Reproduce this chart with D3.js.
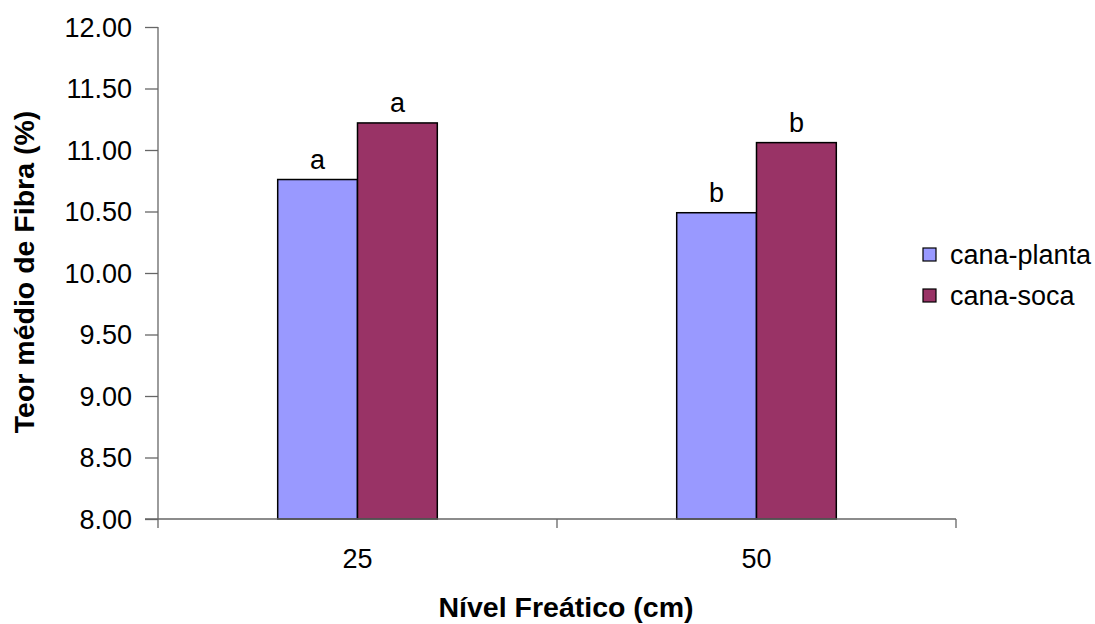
<!DOCTYPE html>
<html>
<head>
<meta charset="utf-8">
<script src="https://cdn.jsdelivr.net/npm/d3@7"></script>
<style>
  body { margin: 0; background: #fff; }
  text { font-family: "Liberation Sans", Arial, sans-serif; }
</style>
</head>
<body>
<svg id="chart" width="1095" height="624"></svg>
<script>
// data
var categories = ["25", "50"];
var seriesNames = ["cana-planta", "cana-soca"];
var plantaValues = [10.76, 10.49];
var socaValues = [11.22, 11.06];
var plantaLetters = ["a", "b"];
var socaLetters = ["a", "b"];
var yTicks = [8, 8.5, 9, 9.5, 10, 10.5, 11, 11.5, 12];
var colors = ["#9999FF", "#993366"];

var margin = {left: 158, top: 27, right: 1095 - 956, bottom: 624 - 519};
var width = 1095 - margin.left - margin.right;
var height = 624 - margin.top - margin.bottom;

var svg = d3.select("#chart");
var g = svg.append("g").attr("transform", `translate(${margin.left},${margin.top})`);

var xScale = d3.scaleBand().range([0, width]).domain(categories);
var yScale = d3.scaleLinear().range([height, 0]).domain([8, 12]);

// bar width : band = 80 : 399 (gap width 150%)
var barW = xScale.bandwidth() / 5;
var xInner = d3.scaleBand().domain(seriesNames).range([0, barW * 2]);

var rows = [];
categories.forEach((c, i) => {
  rows.push({cat: c, s: 0, v: plantaValues[i], lab: plantaLetters[i]});
  rows.push({cat: c, s: 1, v: socaValues[i], lab: socaLetters[i]});
});

var barX = d => xScale(d.cat) + xScale.bandwidth() / 2 - barW + xInner(seriesNames[d.s]);

g.selectAll("rect.bar")
  .data(rows)
  .join("rect")
    .attr("class", "bar")
    .attr("x", barX)
    .attr("y", d => yScale(d.v))
    .attr("width", barW)
    .attr("height", d => yScale(8) - yScale(d.v))
    .style("fill", d => colors[d.s])
    .style("stroke", "#000")
    .style("stroke-width", 1.5);

g.selectAll("text.lab")
  .data(rows)
  .join("text")
    .attr("class", "lab")
    .attr("x", d => barX(d) + barW / 2)
    .attr("y", d => yScale(d.v) - 11)
    .attr("text-anchor", "middle")
    .style("font-size", "27px")
    .text(d => d.lab);

// y axis
var yAxis = g.append("g")
  .call(d3.axisLeft(yScale).tickValues(yTicks).tickSize(13).tickPadding(13).tickFormat(d3.format(".2f")));
yAxis.selectAll("text").style("font-size", "27px").style("fill", "#000").attr("dy", "0.35em");
yAxis.selectAll("line, path").style("stroke", "#666").style("stroke-width", 1.3);
yAxis.select("path").attr("d", `M0,0V${height}`);

// x axis
var xAxis = g.append("g")
  .attr("transform", `translate(0,${height})`);
xAxis.append("line").attr("x1", -13).attr("x2", width).style("stroke", "#666").style("stroke-width", 1.3);
xAxis.selectAll("line.tk")
  .data([0, xScale("50"), width])
  .join("line").attr("class", "tk")
  .attr("x1", d => d).attr("x2", d => d).attr("y1", 0).attr("y2", 9)
  .style("stroke", "#666").style("stroke-width", 1.3);
xAxis.selectAll("text.xt")
  .data(categories)
  .join("text").attr("class", "xt")
  .attr("x", d => xScale(d) + xScale.bandwidth() / 2)
  .attr("y", 49)
  .attr("text-anchor", "middle")
  .style("font-size", "27px")
  .text(d => d);

// titles
svg.append("text")
  .attr("x", margin.left + width / 2 + 9)
  .attr("y", 617)
  .attr("text-anchor", "middle")
  .style("font-size", "28.5px").style("font-weight", "bold")
  .text("Nível Freático (cm)");

svg.append("text")
  .attr("transform", `translate(34,272) rotate(-90)`)
  .attr("text-anchor", "middle")
  .style("font-size", "28.5px").style("font-weight", "bold")
  .text("Teor médio de Fibra (%)");

// legend
var legend = svg.append("g").attr("transform", "translate(923,248)");
seriesNames.forEach((s, i) => {
  legend.append("rect")
    .attr("x", 0).attr("y", i * 41)
    .attr("width", 13).attr("height", 13)
    .style("fill", colors[i]).style("stroke", "#000").style("stroke-width", 1.2);
  legend.append("text")
    .attr("x", 27).attr("y", i * 41 + 7)
    .attr("dy", "0.35em")
    .style("font-size", "27px")
    .text(s);
});
</script>
</body>
</html>
